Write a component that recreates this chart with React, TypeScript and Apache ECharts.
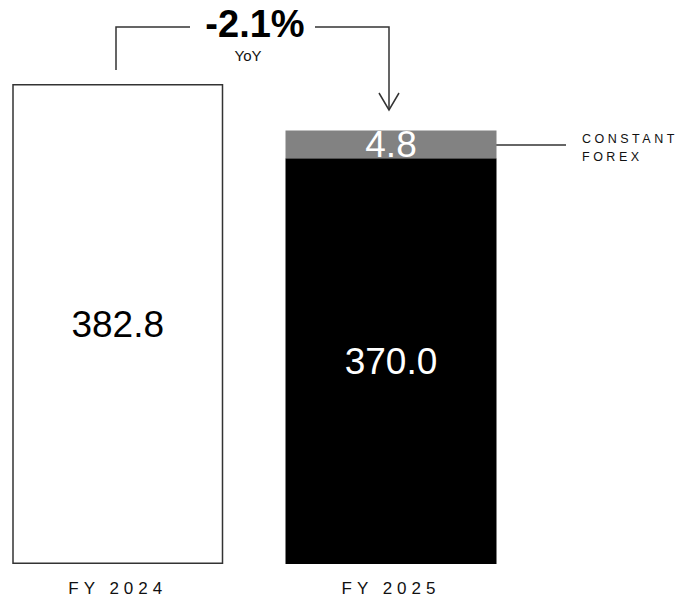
import React, { useEffect, useRef } from "react";
import * as echarts from "echarts";

// Revenue by fiscal year (reported) plus the constant-forex adjustment
const categories = ["FY 2024", "FY 2025"];
const reportedValues = [382.8, 370.0];
const forexValues: (number | null)[] = [null, 4.8];
const forexLabel = ["CONSTANT", "FOREX"];
const yoyCaption = "YoY";

// Year-on-year change at constant forex
const constantTotal = reportedValues[1] + (forexValues[1] as number);
const yoyChange = ((constantTotal / reportedValues[0] - 1) * 100).toFixed(1) + "%";

const AXIS_START = 300;
const FONT = "'Liberation Sans', Arial, Helvetica, sans-serif";
const INK = "#333333";

// zrender text has no letter-spacing, so it is applied to the SVG texts afterwards
const spacing: Record<string, number> = {
  "FY 2024": 5,
  "FY 2025": 5,
  CONSTANT: 3.5,
  FOREX: 3.5,
};

export default function App() {
  const ref = useRef<HTMLDivElement>(null);

  useEffect(() => {
    if (!ref.current) return;
    const chart = echarts.init(ref.current, undefined, { renderer: "svg" });

    const applySpacing = () => {
      const root = ref.current;
      if (!root) return;
      root.querySelectorAll("text").forEach((t) => {
        const s = spacing[(t.textContent || "").trim()];
        if (s) (t as SVGTextElement).style.letterSpacing = s + "px";
      });
    };

    chart.setOption({
      animation: false,
      backgroundColor: "#ffffff",
      // the two year columns sit on the grid's left and right edges
      grid: { left: 117.75, right: 299, top: 84, bottom: 38 },
      xAxis: {
        type: "category",
        data: categories,
        boundaryGap: false,
        axisLine: { show: false },
        axisTick: { show: false },
        axisLabel: {
          margin: 16,
          fontSize: 17,
          color: "#111111",
          fontFamily: FONT,
        },
      },
      yAxis: {
        type: "value",
        min: AXIS_START,
        startValue: AXIS_START,
        max: "dataMax",
        show: false,
        splitLine: { show: false },
      },
      series: [
        {
          type: "bar",
          stack: "total",
          barWidth: 211,
          clip: false,
          data: [
            {
              value: reportedValues[0],
              itemStyle: { color: "#ffffff", borderColor: INK, borderWidth: 1.5 },
              label: { color: "#000000" },
            },
            {
              value: reportedValues[1],
              itemStyle: { color: "#000000" },
              label: { color: "#ffffff" },
            },
          ],
          label: {
            show: true,
            position: "inside",
            fontSize: 37,
            fontFamily: FONT,
            formatter: (p: any) => Number(p.value).toFixed(1),
          },
        },
        {
          type: "bar",
          stack: "total",
          barWidth: 211,
          clip: false,
          data: forexValues.map((v) => (v == null ? "-" : v)),
          itemStyle: { color: "#828282" },
          label: {
            show: true,
            position: "inside",
            fontSize: 37,
            fontFamily: FONT,
            color: "#ffffff",
            formatter: (p: any) => Number(p.value).toFixed(1),
          },
        },
      ],
      graphic: [
        // bracket from FY 2024 to the arrow over FY 2025
        {
          type: "polyline",
          shape: { points: [[116, 70], [116, 27], [190, 27]] },
          style: { stroke: INK, lineWidth: 1.5, fill: null },
        },
        {
          type: "polyline",
          shape: { points: [[315, 27], [389, 27], [389, 110]] },
          style: { stroke: INK, lineWidth: 1.5, fill: null },
        },
        {
          type: "polyline",
          shape: { points: [[379, 93], [389, 110], [399, 93]] },
          style: { stroke: INK, lineWidth: 1.5, fill: null },
        },
        {
          type: "text",
          x: 255,
          y: 24,
          style: {
            text: yoyChange,
            fontSize: 38,
            fontWeight: "bold",
            fontFamily: FONT,
            fill: "#000000",
            align: "center",
            verticalAlign: "middle",
          },
        },
        {
          type: "text",
          x: 248,
          y: 55,
          style: {
            text: yoyCaption,
            fontSize: 15,
            fontFamily: FONT,
            fill: "#111111",
            align: "center",
            verticalAlign: "middle",
          },
        },
        // constant-forex callout
        {
          type: "line",
          shape: { x1: 494, y1: 145, x2: 566, y2: 145 },
          style: { stroke: INK, lineWidth: 1.5 },
        },
        {
          type: "text",
          x: 582,
          y: 139,
          style: {
            text: forexLabel[0],
            fontSize: 12.5,
            fontFamily: FONT,
            fill: "#111111",
            align: "left",
            verticalAlign: "middle",
          },
        },
        {
          type: "text",
          x: 582,
          y: 157,
          style: {
            text: forexLabel[1],
            fontSize: 12.5,
            fontFamily: FONT,
            fill: "#111111",
            align: "left",
            verticalAlign: "middle",
          },
        },
      ],
    });

    applySpacing();
    chart.on("finished", applySpacing);
    const timer = setTimeout(applySpacing, 50);

    return () => {
      clearTimeout(timer);
      chart.dispose();
    };
  }, []);

  return <div ref={ref} style={{ width: 690, height: 602, position: "absolute", left: 0, top: 0 }} />;
}
